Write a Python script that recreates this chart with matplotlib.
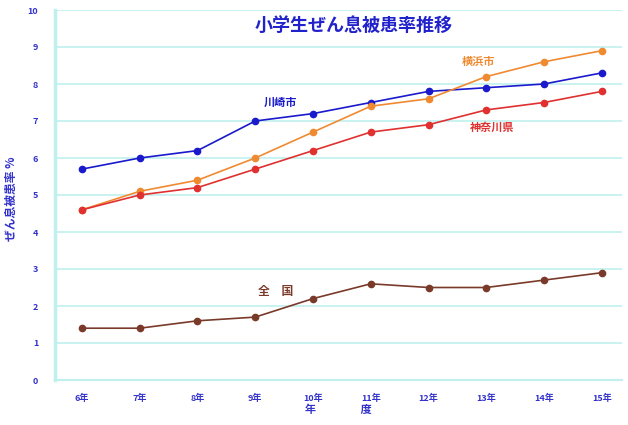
import matplotlib
matplotlib.use("Agg")
import matplotlib.pyplot as plt

plt.rcParams["font.family"] = ["Noto Sans CJK JP", "DejaVu Sans"]

# 年度と各地域のぜん息被患率 (%)
years = ["6年", "7年", "8年", "9年", "10年", "11年", "12年", "13年", "14年", "15年"]
kawasaki = [5.7, 6.0, 6.2, 7.0, 7.2, 7.5, 7.8, 7.9, 8.0, 8.3]
yokohama = [4.6, 5.1, 5.4, 6.0, 6.7, 7.4, 7.6, 8.2, 8.6, 8.9]
kanagawa = [4.6, 5.0, 5.2, 5.7, 6.2, 6.7, 6.9, 7.3, 7.5, 7.8]
zenkoku = [1.4, 1.4, 1.6, 1.7, 2.2, 2.6, 2.5, 2.5, 2.7, 2.9]
yticks = list(range(0, 11))

GRID = "#bff0ee"
TXT = "#3333cc"

fig = plt.figure(figsize=(6.28, 4.25), dpi=100)
ax = fig.add_axes([55 / 628, 45 / 425, 567 / 628, 370 / 425])

x = list(range(len(years)))
series = [
    (kawasaki, "#1a1acc"),
    (yokohama, "#f08a30"),
    (kanagawa, "#e03030"),
    (zenkoku, "#7a3a2a"),
]
for vals, col in series:
    ax.plot(x, vals, color=col, lw=1.2, marker="o", ms=4.5, mec=col, mfc=col)

ax.set_xlim(-0.467, 9.35)
ax.set_ylim(0, 10)
ax.set_xticks(x)
ax.set_xticklabels(years)
ax.set_yticks(yticks)
ax.tick_params(length=0, labelsize=6.5, labelcolor=TXT)
ax.tick_params(axis="x", pad=10)
ax.tick_params(axis="y", pad=12)
for lab in ax.get_xticklabels() + ax.get_yticklabels():
    lab.set_fontweight("bold")

ax.grid(axis="y", color=GRID, lw=1.2)
ax.set_axisbelow(True)
for side in ("top", "right"):
    ax.spines[side].set_visible(False)
ax.spines["left"].set_color(GRID)
ax.spines["left"].set_linewidth(2.5)
ax.spines["bottom"].set_color(GRID)
ax.spines["bottom"].set_linewidth(1.5)

# 系列名
ax.text(3.15, 7.5, "川崎市", color="#1a1acc", fontsize=8, fontweight="bold",
        va="center")
ax.text(6.58, 8.6, "横浜市", color="#f08a30", fontsize=8, fontweight="bold",
        va="center")
ax.text(6.72, 6.84, "神奈川県", color="#e03030", fontsize=8, fontweight="bold",
        va="center")
ax.text(3.05, 2.38, "全　国", color="#7a3a2a", fontsize=8.5, fontweight="bold",
        va="center")

ax.text(0.527, 0.959, "小学生ぜん息被患率推移", transform=ax.transAxes,
        ha="center", va="center", color="#2222cc", fontsize=13,
        fontweight="bold")

ax.set_ylabel("ぜん息被患率 %", color=TXT, fontsize=8.5, fontweight="bold")
ax.yaxis.set_label_coords(-0.066, 0.49)
ax.set_xlabel("年　　　　度", color=TXT, fontsize=8, fontweight="bold",
              labelpad=0)

fig.savefig("out.png", dpi=100, facecolor="white")
